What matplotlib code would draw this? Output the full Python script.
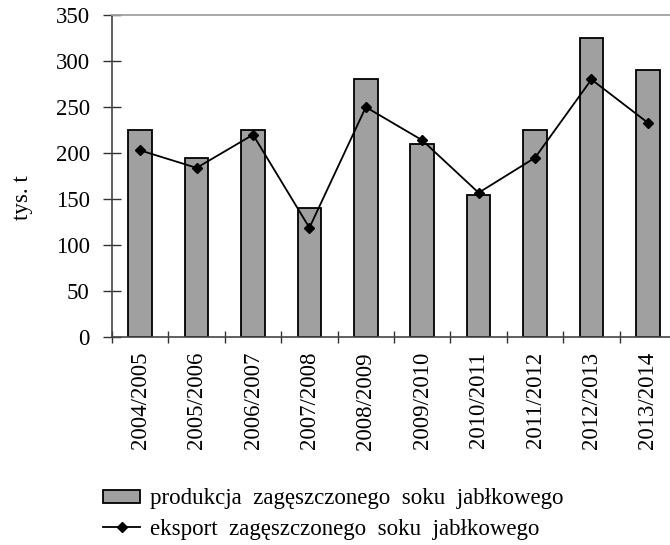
import matplotlib
matplotlib.use("Agg")
import matplotlib.pyplot as plt
from matplotlib.patches import Patch
from matplotlib.lines import Line2D
import numpy as np

seasons = ["2004/2005", "2005/2006", "2006/2007", "2007/2008", "2008/2009",
           "2009/2010", "2010/2011", "2011/2012", "2012/2013", "2013/2014"]
produkcja = [225, 195, 225, 140, 280, 210, 155, 225, 325, 290]
eksport = [203, 184, 220, 119, 250, 214, 157, 195, 280, 233]
yticks = [0, 50, 100, 150, 200, 250, 300, 350]
label_prod = "produkcja  zagęszczonego  soku  jabłkowego"
label_exp = "eksport  zagęszczonego  soku  jabłkowego"

plt.rcParams['font.family'] = ['Liberation Serif', 'DejaVu Serif']

fig = plt.figure(figsize=(6.7, 5.45), dpi=100)
ax = fig.add_axes([0.1672, 0.381, 1.009 - 0.1672, 0.9725 - 0.381])

x = np.arange(len(seasons))
ax.bar(x, produkcja, width=0.42, color="#a0a0a0", edgecolor="black", linewidth=1.3, zorder=2)
ax.plot(x, eksport, color="black", linewidth=1.3, marker="D", markersize=5.5, zorder=3)

ax.set_xlim(-0.5, len(seasons) - 0.5)
ax.set_ylim(0, 350)
ax.set_yticks(yticks)
ax.set_yticklabels([str(v) for v in yticks], fontsize=16.5)
ax.set_xticks(x)
ax.set_xticklabels(seasons, rotation=90, fontsize=16.5)
ax.set_xticks(np.arange(len(seasons) + 1) - 0.5, minor=True)
ax.tick_params(axis='x', which='major', length=0, pad=10.5)
ax.tick_params(axis='x', which='minor', direction='inout', length=9, width=1, color="#333333")
ax.tick_params(axis='y', direction='inout', length=13, width=1, color="#333333", pad=9.5)

for s in ['left', 'bottom']:
    ax.spines[s].set_color("#444444")
    ax.spines[s].set_linewidth(1.2)
ax.spines['top'].set_color("#a0a0a0")
ax.spines['top'].set_linewidth(1.3)
ax.spines['right'].set_visible(False)

ax.set_ylabel("tys. t", fontsize=16.5)
ax.yaxis.set_label_coords(-0.14, 0.435)

handles = [Patch(facecolor="#a0a0a0", edgecolor="black", linewidth=1.3),
           Line2D([0], [0], color="black", linewidth=1.3, marker="D", markersize=5)]
fig.legend(handles, [label_prod, label_exp], loc="center left",
           bbox_to_anchor=(0.137, 0.057), frameon=False, fontsize=16.5,
           handlelength=1.6, handleheight=0.5, handletextpad=0.45, labelspacing=0.4,
           borderpad=0)

fig.savefig("out.png", dpi=100)
